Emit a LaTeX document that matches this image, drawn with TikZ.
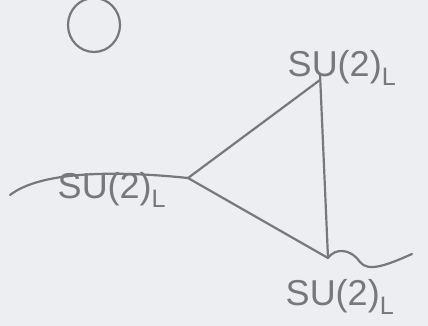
\documentclass[tikz,border=0pt]{standalone}
\usepackage{fontspec}
\setmainfont{Liberation Sans}
\definecolor{paper}{RGB}{236,238,241}
\definecolor{pencil}{RGB}{118,120,124}
\tikzset{
  pen/.style={draw=pencil, line width=2.2pt, line cap=round, line join=round},
  lbl/.style={text=pencil, font=\fontsize{36}{36}\selectfont, inner sep=0pt}
}
\begin{document}
\begin{tikzpicture}[x=1pt,y=-1pt]
\fill[paper] (0,0) rectangle (428,326);
\useasboundingbox (0,0) rectangle (428,326);
% vertices
\coordinate (A) at (188,178);
\coordinate (B) at (320,80);
\coordinate (C) at (328,258);
\coordinate (Lin) at (10,195);
\coordinate (Rout) at (412,254);
\coordinate (Btop) at (320,74);
% cut-off letter at top
\draw[pen] (94,25) ellipse [x radius=26, y radius=27];
% triangle
\draw[pen] (A) -- (B);
\draw[pen] (A) -- (C);
\draw[pen] (Btop) -- (C);
% wavy external legs
\draw[pen] (Lin) .. controls (40,172) and (110,170) .. (A);
\draw[pen] (C) .. controls (335,248) and (350,248) .. (360,262)
  .. controls (368,272) and (385,266) .. (Rout);
% labels
\node[lbl] (lA) at (112,190) {SU(2)\textsubscript{L}};
\node[lbl] (lB) at (342,68) {SU(2)\textsubscript{L}};
\node[lbl] (lC) at (340,297) {SU(2)\textsubscript{L}};
\end{tikzpicture}
\end{document}
